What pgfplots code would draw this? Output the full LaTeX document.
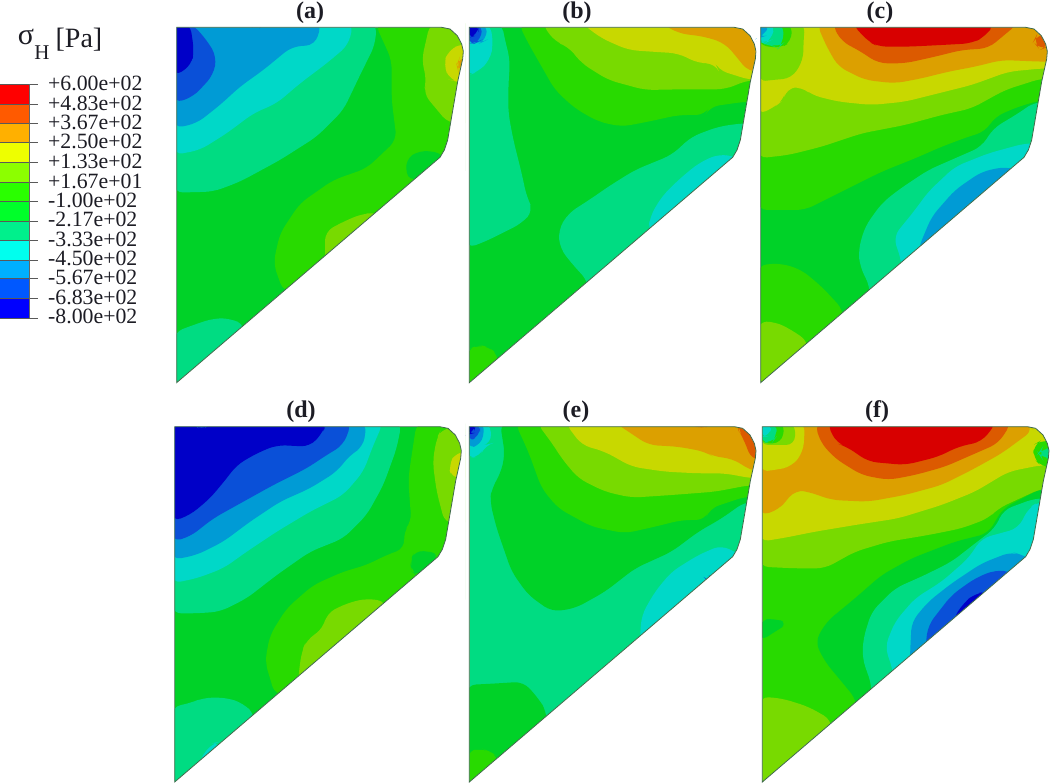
\documentclass[border=0pt]{standalone}
\usepackage{fontspec}
\setmainfont{Liberation Serif}
\usepackage{pgfplots}
\usepackage{pgfplotstable}
\pgfplotsset{compat=1.18}

% contour bands as rendered in the panels
\definecolor{c1}{HTML}{0000C8}
\definecolor{c2}{HTML}{0A50D8}
\definecolor{c3}{HTML}{009BD5}
\definecolor{c4}{HTML}{00D8C8}
\definecolor{c5}{HTML}{00DC82}
\definecolor{c6}{HTML}{00D228}
\definecolor{c7}{HTML}{28DA00}
\definecolor{c8}{HTML}{78DA00}
\definecolor{c9}{HTML}{C8D800}
\definecolor{c10}{HTML}{DCA000}
\definecolor{c11}{HTML}{DC5A00}
\definecolor{c12}{HTML}{D80000}
\definecolor{edgeln}{HTML}{3F6B4A}
\definecolor{txt}{HTML}{1C1C24}

% part outline relative to top left corner
\pgfplotstableread{
x y
0 0
795 0
820 5
842 25
855 50
860 72
858 95
843 163
825 268
813 338
803 368
790 390
0 1066
}\outline
% ring outside of the part, painted white over the bands
\pgfplotstableread{
x y
-12 -20
2000 -20
2000 1200
-12 1200
-12 1066
0 1066
790 390
803 368
813 338
825 268
843 163
858 95
860 72
855 50
842 25
820 5
795 0
0 0
0 1066
-12 1066
}\outside

\newcommand\base[3]{\addplot[fill=#1,draw=none] table[x expr=\thisrow{x}+#2,y expr=\thisrow{y}+#3]{\outline} -- cycle;}
\newcommand\reg[2]{\addplot[fill=#1,draw=none,rounded corners=9pt] coordinates {#2} -- cycle;}
\newcommand\finish[2]{%
  \addplot[fill=white,draw=none] table[x expr=\thisrow{x}+#1,y expr=\thisrow{y}+#2]{\outside} -- cycle;
  \addplot[draw=edgeln,line width=0.8pt] table[x expr=\thisrow{x}+#1,y expr=\thisrow{y}+#2]{\outline} -- cycle;}

\pgfplotsset{
  panel/.style={hide axis,scale only axis,width=295pt,y dir=reverse,anchor=south west},
  toprow/.style={panel,height=392pt,ymin=0,ymax=1176},
  botrow/.style={panel,height=389pt,ymin=0,ymax=1167},
}

\begin{document}
\begin{tikzpicture}[x=1pt,y=1pt]
\path[use as bounding box] (0,0) rectangle (1050,784);

% (a)
\begin{axis}[toprow,at={(170pt,392pt)},xmin=510,xmax=1395]
\base{c6}{530}{82}
\reg{c7}{(1125,70)(1175,180)(1175,300)(1190,420)(1100,505)(1000,540)(900,610)(840,700)(820,790)(850,875)(1100,900)(1420,480)(1420,70)}
\reg{c6}{(1215,480)(1260,450)(1330,460)(1340,500)(1225,545)}
\reg{c8}{(1290,70)(1265,180)(1280,240)(1270,280)(1345,370)(1420,370)(1420,70)}
\reg{c9}{(1390,130)(1345,150)(1330,195)(1350,240)(1370,245)(1420,245)(1420,130)}
\reg{c10}{(1380,170)(1370,195)(1375,215)(1420,215)(1420,170)}
\reg{c8}{(975,775)(975,695)(1030,665)(1090,640)(1125,640)(1200,640)(1200,850)(975,850)}
\reg{c5}{(522,997)(580,975)(640,955)(690,955)(735,975)(735,1180)(522,1180)}
\reg{c5}{(522,578)(640,575)(720,545)(840,480)(950,410)(1030,330)(1085,215)(1125,135)(1130,70)(522,70)}
\reg{c4}{(522,465)(600,450)(680,400)(760,340)(830,310)(900,250)(980,190)(1045,135)(1060,70)(522,70)}
\reg{c3}{(522,385)(590,370)(660,315)(720,260)(790,210)(875,140)(945,135)(965,70)(522,70)}
\reg{c2}{(522,310)(580,290)(640,225)(650,170)(620,120)(575,70)(522,70)}
\reg{c1}{(522,230)(575,195)(582,150)(570,70)(522,70)}
\reg{c2}{(735,70)(770,90)(800,70)}
\finish{530}{82}
\end{axis}

% (b)
\begin{axis}[toprow,at={(465pt,392pt)},xmin=0,xmax=885]
\base{c6}{13}{82}
\reg{c5}{(5,745)(60,725)(110,700)(170,670)(205,632)(185,590)(170,520)(145,420)(130,340)(130,260)(135,180)(120,120)(110,70)(5,70)}
\reg{c4}{(5,228)(40,215)(75,180)(85,130)(75,70)(5,70)}
\reg{c3}{(5,130)(45,130)(65,120)(65,70)(5,70)}
\reg{c2}{(5,130)(30,130)(50,120)(50,70)(5,70)}
\reg{c1}{(5,115)(40,105)(40,70)(5,70)}
\reg{c5}{(370,845)(320,790)(285,745)(280,690)(310,640)(380,595)(430,560)(510,510)(620,465)(680,410)(760,380)(830,370)(900,370)(900,700)(370,1100)}
\reg{c4}{(550,690)(555,650)(590,590)(640,540)(700,490)(760,462)(810,470)(900,500)(600,800)}
\reg{c7}{(160,70)(190,130)(230,200)(270,270)(330,325)(400,365)(470,380)(550,365)(640,345)(720,345)(735,320)(840,305)(900,305)(900,70)}
\reg{c8}{(230,70)(270,125)(310,140)(350,190)(430,240)(540,270)(650,268)(780,268)(850,240)(900,240)(900,70)}
\reg{c9}{(350,70)(410,115)(490,150)(560,155)(640,160)(700,190)(750,190)(760,210)(855,240)(900,240)(900,70)}
\reg{c10}{(590,70)(640,100)(720,110)(780,130)(810,165)(850,215)(900,215)(900,70)}
\reg{c7}{(5,1050)(40,1035)(70,1040)(100,1065)(100,1180)(5,1180)}
\finish{13}{82}
\end{axis}

% (c)
\begin{axis}[toprow,at={(755pt,392pt)},xmin=0,xmax=885]
\base{c6}{17}{82}
\reg{c7}{(9,630)(70,630)(150,630)(230,590)(310,550)(380,515)(480,475)(560,440)(640,410)(690,395)(720,350)(790,320)(860,300)(900,300)(900,70)(9,70)}
\reg{c8}{(9,475)(100,465)(200,440)(320,400)(450,375)(560,345)(650,325)(750,270)(860,235)(900,235)(900,70)(9,70)}
\reg{c9}{(9,345)(60,320)(85,300)(95,265)(140,260)(170,285)(250,305)(350,315)(450,305)(550,280)(650,255)(760,215)(865,205)(900,205)(900,70)(9,70)}
\reg{c8}{(9,245)(50,240)(110,235)(145,180)(145,130)(150,70)(9,70)}
\reg{c7}{(9,135)(75,145)(110,125)(110,70)(9,70)}
\reg{c5}{(9,130)(50,135)(70,145)(85,130)(85,70)(9,70)}
\reg{c4}{(9,125)(30,130)(50,120)(60,70)(9,70)}
\reg{c3}{(9,115)(25,110)(45,70)(9,70)}
\reg{c10}{(185,70)(215,140)(250,200)(330,240)(420,250)(500,235)(580,215)(660,200)(740,180)(860,185)(900,185)(900,70)}
\reg{c11}{(230,70)(260,125)(310,150)(370,190)(450,190)(540,170)(620,150)(700,145)(790,70)}
\reg{c11}{(835,125)(855,150)(880,140)(880,100)(845,105)}
\reg{c12}{(290,70)(340,125)(370,140)(460,140)(560,135)(650,130)(690,110)(720,70)}
\reg{c5}{(345,860)(315,800)(310,750)(330,680)(380,610)(430,570)(520,510)(600,475)(680,440)(715,385)(790,340)(840,305)(900,310)(900,700)(345,1100)}
\reg{c4}{(440,785)(415,710)(480,630)(520,575)(600,500)(700,460)(810,430)(900,430)(900,700)(440,1050)}
\reg{c3}{(490,745)(530,650)(600,570)(680,515)(750,500)(790,510)(900,560)(500,900)}
\reg{c7}{(9,795)(80,790)(140,810)(200,860)(265,930)(265,1180)(9,1180)}
\reg{c8}{(9,965)(60,965)(110,990)(160,1025)(160,1180)(9,1180)}
\finish{17}{82}
\end{axis}

% (d)
\begin{axis}[botrow,at={(170pt,0pt)},xmin=0,xmax=885]
\base{c6}{14}{95}
\reg{c7}{(740,83)(725,180)(715,250)(720,330)(725,380)(700,410)(705,460)(650,480)(590,510)(520,530)(430,570)(350,640)(300,720)(285,800)(315,900)(600,900)(900,600)(900,83)}
\reg{c6}{(720,500)(735,465)(810,475)(770,520)(745,545)(725,530)}
\reg{c8}{(815,100)(800,130)(788,200)(800,290)(825,385)(900,385)(900,100)}
\reg{c9}{(860,170)(835,210)(845,250)(900,250)(900,170)}
\reg{c8}{(385,845)(395,770)(410,735)(460,700)(470,655)(530,625)(590,610)(650,620)(650,900)(385,900)}
\reg{c5}{(6,655)(80,655)(150,650)(230,610)(320,540)(420,470)(520,430)(590,360)(640,270)(680,160)(695,83)(6,83)}
\reg{c4}{(6,565)(80,550)(160,520)(230,470)(320,410)(420,350)(520,300)(580,230)(610,150)(640,83)(6,83)}
\reg{c3}{(6,495)(80,480)(160,440)(240,380)(330,320)(420,280)(500,230)(540,180)(580,155)(590,83)(6,83)}
\reg{c2}{(6,440)(60,425)(130,370)(220,320)(310,270)(410,220)(470,180)(520,150)(545,83)(6,83)}
\reg{c1}{(6,380)(60,360)(120,310)(170,250)(200,210)(260,175)(320,150)(420,155)(460,110)(470,83)(6,83)}
\reg{c2}{(65,83)(95,108)(125,83)}
\reg{c5}{(6,935)(60,925)(100,908)(170,908)(220,925)(255,960)(255,1180)(6,1180)}
\reg{c4}{(85,1100)(125,1045)(150,1040)(150,1150)(85,1150)}
\finish{14}{95}
\end{axis}

% (e)
\begin{axis}[botrow,at={(465pt,0pt)},xmin=0,xmax=885]
\base{c5}{13}{95}
\reg{c6}{(105,83)(120,180)(105,240)(80,280)(75,320)(95,400)(140,530)(190,600)(260,650)(330,640)(420,590)(510,520)(620,470)(700,410)(770,370)(840,320)(900,320)(900,83)}
\reg{c7}{(150,83)(190,170)(230,280)(280,340)(380,395)(480,415)(570,395)(650,375)(720,375)(735,340)(840,305)(900,305)(900,83)}
\reg{c8}{(215,83)(265,150)(290,190)(340,250)(420,290)(500,308)(620,300)(750,290)(855,270)(900,270)(900,83)}
\reg{c9}{(300,83)(350,150)(420,170)(500,215)(600,230)(700,235)(780,235)(860,250)(900,250)(900,83)}
\reg{c10}{(450,83)(550,150)(640,155)(720,170)(745,185)(800,190)(865,230)(900,230)(900,83)}
\reg{c11}{(670,83)(710,105)(745,83)}
\reg{c11}{(820,105)(835,130)(860,195)(900,195)(900,83)(820,83)}
\reg{c4}{(5,190)(45,185)(60,150)(80,145)(75,83)(5,83)}
\reg{c3}{(5,160)(50,150)(60,83)(5,83)}
\reg{c2}{(5,140)(45,125)(45,83)(5,83)}
\reg{c1}{(5,120)(25,115)(35,83)(5,83)}
\reg{c4}{(525,725)(530,660)(570,590)(620,530)(700,480)(770,450)(815,475)(900,500)(525,900)}
\reg{c2}{(725,555)(745,540)(755,540)(735,565)}
\reg{c6}{(5,870)(100,865)(175,860)(220,910)(245,950)(245,1180)(5,1180)}
\reg{c7}{(5,1070)(50,1060)(75,1070)(100,1085)(100,1180)(5,1180)}
\finish{13}{95}
\end{axis}

% (f)
\begin{axis}[botrow,at={(755pt,0pt)},xmin=0,xmax=885]
\base{c7}{22}{95}
\reg{c6}{(305,915)(260,860)(210,800)(180,740)(215,680)(300,610)(380,540)(470,490)(600,440)(700,415)(720,380)(745,340)(860,280)(900,280)(900,700)(305,1100)}
\reg{c6}{(14,675)(60,670)(100,685)(60,710)(14,740)}
\reg{c5}{(350,870)(322,790)(325,730)(350,650)(420,580)(510,540)(590,500)(680,430)(720,400)(745,345)(840,310)(900,310)(900,700)(350,1120)}
\reg{c4}{(415,830)(390,755)(420,680)(480,610)(560,560)(640,490)(680,430)(790,400)(820,340)(850,320)(900,320)(900,700)(415,1050)}
\reg{c3}{(465,780)(470,680)(520,620)(590,565)(680,505)(770,470)(800,480)(900,520)(900,600)(465,950)}
\reg{c2}{(512,745)(520,690)(590,600)(660,550)(720,525)(770,530)(800,560)(512,900)}
\reg{c1}{(595,670)(625,625)(660,595)(700,590)(700,680)(595,760)}
\reg{c8}{(14,515)(120,520)(210,520)(300,470)(400,440)(520,420)(620,400)(700,370)(730,340)(860,280)(900,280)(900,83)(14,83)}
\reg{c9}{(14,440)(80,430)(180,410)(300,390)(430,370)(560,330)(660,290)(760,230)(860,210)(900,210)(900,83)(14,83)}
\reg{c10}{(14,362)(70,345)(100,310)(120,285)(160,290)(230,315)(340,320)(450,300)(560,270)(650,225)(740,175)(835,105)(820,83)(14,83)}
\reg{c11}{(180,83)(195,140)(240,190)(320,240)(400,255)(480,240)(570,215)(650,180)(730,145)(770,83)}
\reg{c12}{(215,83)(245,145)(275,155)(340,200)(450,210)(550,185)(610,155)(680,140)(725,83)}
\reg{c9}{(14,230)(60,225)(110,215)(145,170)(150,83)(14,83)}
\reg{c8}{(14,150)(120,150)(120,83)(14,83)}
\reg{c7}{(14,145)(80,145)(90,83)(14,83)}
\reg{c5}{(14,140)(50,145)(65,125)(65,83)(14,83)}
\reg{c4}{(14,125)(45,125)(50,83)(14,83)}
\reg{c7}{(835,190)(835,150)(860,135)(900,140)(900,220)(860,215)}
\reg{c5}{(850,175)(860,160)(900,160)(900,190)(860,190)}
\reg{c8}{(14,905)(80,910)(160,935)(230,975)(230,1180)(14,1180)}
\finish{22}{95}
\end{axis}

% colour key and titles in image pixels
\definecolor{k2}{HTML}{FF5A00}\definecolor{k3}{HTML}{FFB000}\definecolor{k4}{HTML}{EEFF00}
\definecolor{k5}{HTML}{8CFF00}\definecolor{k6}{HTML}{2AFF00}\definecolor{k7}{HTML}{00FF2A}
\definecolor{k8}{HTML}{00F08C}\definecolor{k9}{HTML}{00FFEE}\definecolor{k10}{HTML}{00B0FF}
\definecolor{k11}{HTML}{0058FF}\definecolor{k12}{HTML}{0000FF}
\renewcommand\reg[2]{\addplot[fill=#1,draw=none] coordinates {#2} -- cycle;}
\begin{axis}[hide axis,scale only axis,width=1050pt,height=784pt,at={(0pt,0pt)},anchor=south west,
  xmin=0,xmax=1050,ymin=0,ymax=784,y dir=reverse,clip=false]
\reg{red}{(0,85)(29,85)(29,104)(0,104)}
\reg{k2}{(0,104)(29,104)(29,123)(0,123)}
\reg{k3}{(0,123)(29,123)(29,142)(0,142)}
\reg{k4}{(0,142)(29,142)(29,162)(0,162)}
\reg{k5}{(0,162)(29,162)(29,182)(0,182)}
\reg{k6}{(0,182)(29,182)(29,201)(0,201)}
\reg{k7}{(0,201)(29,201)(29,221)(0,221)}
\reg{k8}{(0,221)(29,221)(29,240)(0,240)}
\reg{k9}{(0,240)(29,240)(29,260)(0,260)}
\reg{k10}{(0,260)(29,260)(29,278)(0,278)}
\reg{k11}{(0,278)(29,278)(29,298)(0,298)}
\reg{k12}{(0,298)(29,298)(29,318)(0,318)}
\addplot[draw=black!65,line width=0.7pt,unbounded coords=jump] coordinates {
  (0,84)(38,84)(nan,nan)(0,104)(38,104)(nan,nan)(0,123)(38,123)(nan,nan)
  (0,142)(38,142)(nan,nan)(0,162)(38,162)(nan,nan)(0,182)(38,182)(nan,nan)
  (0,201)(38,201)(nan,nan)(0,221)(38,221)(nan,nan)(0,240)(38,240)(nan,nan)
  (0,260)(38,260)(nan,nan)(0,278)(38,278)(nan,nan)(0,298)(38,298)(nan,nan)
  (0,318)(38,318)};
\addplot[draw=black!60,line width=0.6pt] coordinates {(29,84)(29,318)};
\foreach \lab/\yy in {+6.00e+02/83.5,+4.83e+02/103,+3.67e+02/122.2,+2.50e+02/141.7,+1.33e+02/161.2,+1.67e+01/181,-1.00e+02/200,-2.17e+02/219.3,-3.33e+02/239,-4.50e+02/258.3,-5.67e+02/277.7,-6.83e+02/297.3,-8.00e+02/316.7}{
  \edef\tmp{\noexpand\node[anchor=west,inner sep=0pt,text=txt,font=\noexpand\fontsize{21.8}{24}\noexpand\selectfont] at (axis cs:48,\yy) {\lab};}
  \tmp
}
\node[text=txt,inner sep=0pt,font=\fontsize{30}{34}\selectfont] at (axis cs:26,37) {σ};
\node[text=txt,inner sep=0pt,font=\fontsize{21}{24}\selectfont] at (axis cs:42,53) {H};
\node[text=txt,inner sep=0pt,font=\fontsize{28}{30}\selectfont] at (axis cs:79,40) {[Pa]};
\node[text=txt,inner sep=0pt,font=\fontsize{24}{26}\selectfont\bfseries] at (axis cs:310,13) {(a)};
\node[text=txt,inner sep=0pt,font=\fontsize{24}{26}\selectfont\bfseries] at (axis cs:577,13) {(b)};
\node[text=txt,inner sep=0pt,font=\fontsize{24}{26}\selectfont\bfseries] at (axis cs:880,13) {(c)};
\node[text=txt,inner sep=0pt,font=\fontsize{24}{26}\selectfont\bfseries] at (axis cs:301,412) {(d)};
\node[text=txt,inner sep=0pt,font=\fontsize{24}{26}\selectfont\bfseries] at (axis cs:576,412) {(e)};
\node[text=txt,inner sep=0pt,font=\fontsize{24}{26}\selectfont\bfseries] at (axis cs:877,412) {(f)};
\end{axis}
\end{tikzpicture}
\end{document}
